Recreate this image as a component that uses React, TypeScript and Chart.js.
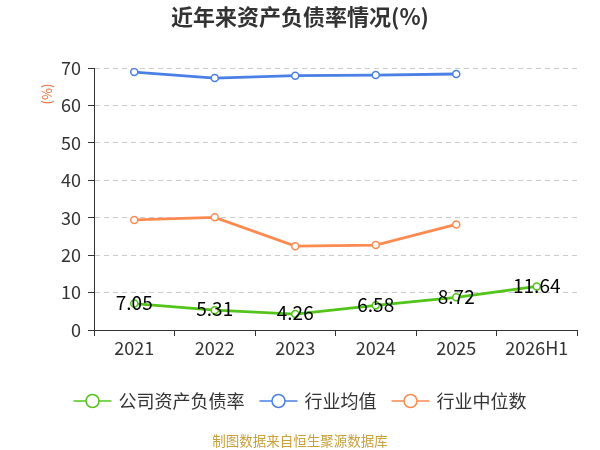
import React, { useEffect, useRef } from "react";
import { Chart, registerables } from "chart.js";

Chart.register(...registerables);

const categories = ["2021", "2022", "2023", "2024", "2025", "2026H1"];
const companyRatio = [7.05, 5.31, 4.26, 6.58, 8.72, 11.64];
const industryAvg = [68.9, 67.3, 67.95, 68.1, 68.4, null];
const industryMedian = [29.4, 30.1, 22.4, 22.7, 28.2, null];
const yTicks = [0, 10, 20, 30, 40, 50, 60, 70];

const seriesNames = ["公司资产负债率", "行业均值", "行业中位数"];
const seriesColors = ["#52c41a", "#4a7fe6", "#ff8a50"];

const titleText = "近年来资产负债率情况(%)";
const unitText = "(%)";
const footerText = "制图数据来自恒生聚源数据库";

const FONT = '"Noto Sans CJK SC", "Noto Sans", sans-serif';

const decorPlugin = {
  id: "decor",
  afterDatasetsDraw(chart: any) {
    const ctx = chart.ctx;
    const meta = chart.getDatasetMeta(0);
    ctx.save();
    ctx.font = `19px ${FONT}`;
    ctx.fillStyle = "#000";
    ctx.textAlign = "center";
    ctx.textBaseline = "middle";
    meta.data.forEach((pt: any, i: number) => {
      ctx.fillText(companyRatio[i].toFixed(2), pt.x, pt.y - 1);
    });
    ctx.restore();
  },
  afterDraw(chart: any) {
    const ctx = chart.ctx;
    const w = chart.width;
    ctx.save();
    ctx.font = `bold 22px ${FONT}`;
    ctx.fillStyle = "#333";
    ctx.textAlign = "center";
    ctx.textBaseline = "middle";
    ctx.fillText(titleText, w / 2, 17);
    ctx.save();
    ctx.translate(47, 94);
    ctx.rotate(-Math.PI / 2);
    ctx.font = `13px ${FONT}`;
    ctx.fillStyle = "#f0642d";
    ctx.fillText(unitText, 0, 0);
    ctx.restore();
    ctx.font = `18px ${FONT}`;
    const lineW = 38;
    const gap = 7;
    const itemGap = 15;
    const widths = seriesNames.map((n) => ctx.measureText(n).width);
    const total =
      widths.reduce((a, b) => a + b, 0) +
      seriesNames.length * (lineW + gap) +
      (seriesNames.length - 1) * itemGap;
    let x = w / 2 - total / 2;
    const ly = 401;
    seriesNames.forEach((n, i) => {
      ctx.strokeStyle = seriesColors[i];
      ctx.lineWidth = 1.5;
      ctx.beginPath();
      ctx.moveTo(x, ly);
      ctx.lineTo(x + lineW, ly);
      ctx.stroke();
      ctx.beginPath();
      ctx.arc(x + lineW / 2, ly, 6.5, 0, Math.PI * 2);
      ctx.fillStyle = "#fff";
      ctx.fill();
      ctx.stroke();
      ctx.fillStyle = "#333";
      ctx.textAlign = "left";
      ctx.fillText(n, x + lineW + gap, ly);
      x += lineW + gap + widths[i] + itemGap;
    });
    ctx.font = `13.5px ${FONT}`;
    ctx.fillStyle = "#c9a03c";
    ctx.textAlign = "center";
    ctx.fillText(footerText, w / 2, 441);
    ctx.restore();
  },
};

export default function App() {
  const ref = useRef<HTMLCanvasElement>(null);
  useEffect(() => {
    if (!ref.current) return;
    const mk = (i: number, data: any[]) => ({
      label: seriesNames[i],
      data,
      borderColor: seriesColors[i],
      backgroundColor: "#fff",
      borderWidth: 2.8,
      pointRadius: 3.5,
      pointBorderWidth: 1.5,
      pointBackgroundColor: "#fff",
      pointBorderColor: seriesColors[i],
      tension: 0,
      spanGaps: false,
    });
    const chart = new Chart(ref.current, {
      type: "line",
      data: {
        labels: categories,
        datasets: [mk(0, companyRatio), mk(1, industryAvg), mk(2, industryMedian)],
      },
      options: {
        responsive: false,
        animation: false,
        layout: { padding: { top: 68, right: 23, bottom: 80, left: 0 } },
        plugins: {
          legend: { display: false },
          title: { display: false },
          tooltip: { enabled: false },
        },
        scales: {
          x: {
            offset: true,
            grid: {
              offset: true,
              drawOnChartArea: false,
              drawTicks: true,
              tickLength: 6,
              tickColor: "#333",
              tickWidth: 1,
            },
            border: { display: true, color: "#333", width: 1 },
            ticks: {
              color: "#333",
              font: { size: 18, family: FONT },
              padding: 1,
              maxRotation: 0,
              autoSkip: false,
            },
            afterFit: (s: any) => {
              s.height = 40;
            },
          },
          y: {
            min: 0,
            max: 70,
            afterBuildTicks: (s: any) => {
              s.ticks = yTicks.map((v) => ({ value: v }));
            },
            grid: {
              color: "#cccccc",
              lineWidth: 1,
              drawTicks: true,
              tickLength: 6,
              tickColor: "#333",
              tickBorderDash: [],
            },
            border: { display: true, color: "#333", width: 1, dash: [5, 4] },
            ticks: {
              color: "#333",
              font: { size: 18, family: FONT },
              padding: 7,
            },
            afterFit: (s: any) => {
              s.width = 94;
            },
          },
        },
      },
      plugins: [decorPlugin],
    });
    return () => chart.destroy();
  }, []);
  return (
    <div style={{ position: "absolute", left: 0, top: 0, width: 600, height: 450, background: "#fff" }}>
      <canvas ref={ref} width={600} height={450} />
    </div>
  );
}
